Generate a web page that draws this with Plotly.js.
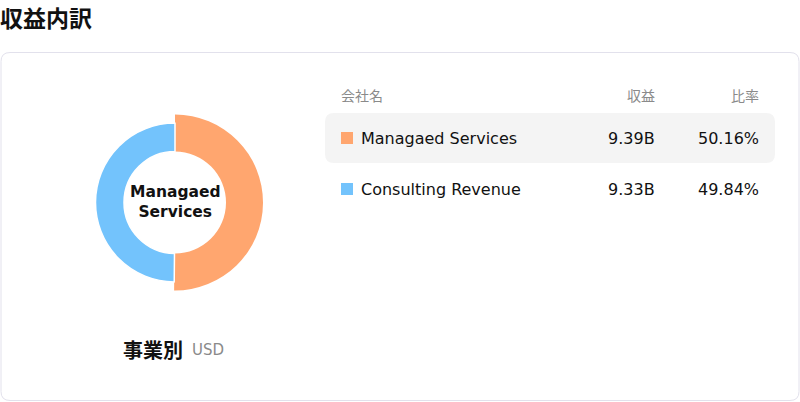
<!DOCTYPE html>
<html>
<head>
<meta charset="utf-8">
<script src="https://cdn.plot.ly/plotly-3.0.1.min.js"></script>
<style>
html,body{margin:0;padding:0;background:#fff;}
#chart{width:800px;height:402px;}
</style>
</head>
<body>
<div id="chart"></div>
<script>
const categories = ["Managaed Services", "Consulting Revenue"];
const revenues = [9.39, 9.33];           // billions USD
const revenueLabels = ["9.39B", "9.33B"];
const shares = ["50.16%", "49.84%"];
const colors = ["#FFA66F", "#73C3FC"];
const headers = ["会社名", "収益", "比率"];
const centerLines = ["Managaed", "Services"];
const chartTitle = "収益内訳";
const donutTitle = "事業別";
const currency = "USD";

const W = 800, H = 402;
const px = x => x / W;
const py = y => 1 - y / H;
const FONT = "DejaVu Sans, Noto Sans CJK JP, sans-serif";
const CJK = "Noto Sans CJK JP, DejaVu Sans, sans-serif";

const cx = 175, cy = 202.5, holeR = 51;
function dom(r){ return {x:[px(cx - r), px(cx + r)], y:[py(cy + r), py(cy - r)]}; }

const rOuter = 88, rInner = 79.5;
const traces = [
  {
    type:"pie", values:revenues, labels:categories, sort:false, direction:"clockwise", rotation:0,
    marker:{colors:[colors[0], "rgba(0,0,0,0)"], line:{color:"#fff", width:0}},
    hole: holeR / rOuter, domain: dom(rOuter), textinfo:"none", hoverinfo:"none", showlegend:false
  },
  {
    type:"pie", values:revenues, labels:categories, sort:false, direction:"clockwise", rotation:0,
    marker:{colors:["rgba(0,0,0,0)", colors[1]], line:{color:"#fff", width:[0, 1.5]}},
    hole: holeR / rInner, domain: dom(rInner), textinfo:"none", hoverinfo:"none", showlegend:false
  }
];

function roundRect(x0, y0, x1, y1, r){
  const X = v => px(v), Y = v => py(v);
  return `M${X(x0+r)},${Y(y0)} L${X(x1-r)},${Y(y0)} Q${X(x1)},${Y(y0)} ${X(x1)},${Y(y0+r)} ` +
         `L${X(x1)},${Y(y1-r)} Q${X(x1)},${Y(y1)} ${X(x1-r)},${Y(y1)} ` +
         `L${X(x0+r)},${Y(y1)} Q${X(x0)},${Y(y1)} ${X(x0)},${Y(y1-r)} ` +
         `L${X(x0)},${Y(y0+r)} Q${X(x0)},${Y(y0)} ${X(x0+r)},${Y(y0)} Z`;
}

const shapes = [
  {type:"path", xref:"paper", yref:"paper", path:roundRect(1, 52.5, 799, 400.5, 9),
   line:{color:"#E2E1EC", width:1}, fillcolor:"rgba(0,0,0,0)", layer:"below"},
  {type:"path", xref:"paper", yref:"paper", path:roundRect(325, 113, 775, 163, 9),
   line:{width:0}, fillcolor:"#F4F4F4", layer:"below"}
];

const rowY = [138, 189];
rowY.forEach((y, i) => {
  shapes.push({type:"rect", xref:"paper", yref:"paper",
    x0:px(341), x1:px(353), y0:py(y+6), y1:py(y-6),
    fillcolor:colors[i], line:{width:0}});
});

function ann(text, x, y, anchor, font){
  return {text, x:px(x), y:py(y), xanchor:anchor, yanchor:"middle", showarrow:false,
          borderpad:0, borderwidth:0, font};
}

const annotations = [
  ann("<b>" + chartTitle + "</b>", 0, 17, "left", {family:CJK, size:23, color:"#111"}),
  ann(headers[0], 341, 95, "left", {family:CJK, size:14, color:"#8a8a8a"}),
  ann(headers[1], 655, 95, "right", {family:CJK, size:14, color:"#8a8a8a"}),
  ann(headers[2], 759, 95, "right", {family:CJK, size:14, color:"#8a8a8a"}),
  ann("<b>" + centerLines.join("<br>") + "</b>", cx, 201.5, "center", {family:FONT, size:15.5, color:"#111"}),
  ann("<b>" + donutTitle + "</b>", 183, 349, "right", {family:CJK, size:20, color:"#111"}),
  ann(currency, 192, 350, "left", {family:FONT, size:15, color:"#8a8a8a"})
];
rowY.forEach((y, i) => {
  annotations.push(ann(categories[i], 361, y + 1, "left", {family:FONT, size:16, color:"#111"}));
  annotations.push(ann(revenueLabels[i], 655, y + 1, "right", {family:FONT, size:16, color:"#111"}));
  annotations.push(ann(shares[i], 759, y + 1, "right", {family:FONT, size:16, color:"#111"}));
});

const layout = {
  width:W, height:H, margin:{l:0, r:0, t:0, b:0},
  paper_bgcolor:"#fff", plot_bgcolor:"#fff",
  showlegend:false, shapes, annotations
};
Plotly.newPlot("chart", traces, layout, {displayModeBar:false, staticPlot:true});
</script>
</body>
</html>
